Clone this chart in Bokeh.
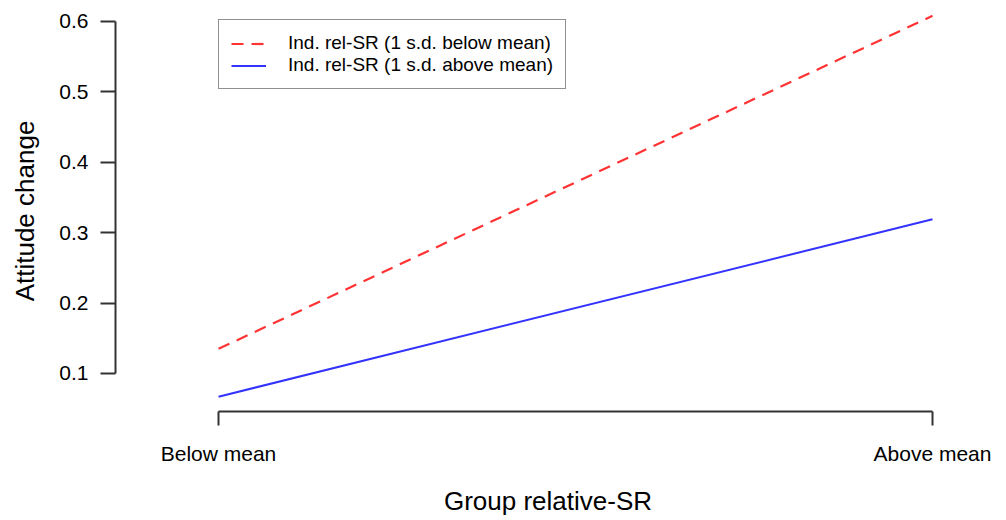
from bokeh.plotting import figure
from bokeh.models import Range1d, FixedTicker, Legend, LegendItem
from bokeh.embed import file_html
from bokeh.resources import INLINE

# ---- data ----
x_labels = ["Below mean", "Above mean"]
x_pos = [1, 2]
below_sd = [0.135, 0.608]   # Ind. rel-SR (1 s.d. below mean)
above_sd = [0.067, 0.319]   # Ind. rel-SR (1 s.d. above mean)
y_ticks = [0.1, 0.2, 0.3, 0.4, 0.5, 0.6]
series_names = ["Ind. rel-SR (1 s.d. below mean)", "Ind. rel-SR (1 s.d. above mean)"]

FONT = "Liberation Sans"
AXIS_COL = "#333333"

p = figure(width=1006, height=520, output_backend="svg", toolbar_location=None,
           x_range=Range1d(0.8557, 2.0672), y_range=Range1d(0.0460, 0.6156),
           min_border_left=115, min_border_right=26, min_border_top=10, min_border_bottom=109)
p.outline_line_color = None
p.xgrid.visible = False
p.ygrid.visible = False

r1 = p.line(x_pos, below_sd, line_color="#ff3333", line_width=2.2, line_dash="12 8")
r2 = p.line(x_pos, above_sd, line_color="#3333ff", line_width=2)

# y axis
ya = p.yaxis[0]
ya.ticker = FixedTicker(ticks=y_ticks)
ya.bounds = (y_ticks[0], y_ticks[-1])
ya.minor_tick_line_color = None
ya.major_tick_in = 0
ya.major_tick_out = 15
ya.axis_line_color = AXIS_COL
ya.axis_line_width = 2
ya.major_tick_line_color = AXIS_COL
ya.major_tick_line_width = 2
ya.major_label_standoff = 12
ya.major_label_text_font = FONT
ya.major_label_text_font_size = "21px"
ya.major_label_text_color = "black"
ya.axis_label = "Attitude change"
ya.axis_label_text_font = FONT
ya.axis_label_text_font_size = "26px"
ya.axis_label_text_font_style = "normal"
ya.axis_label_text_color = "black"
ya.axis_label_standoff = 16

# x axis
xa = p.xaxis[0]
xa.ticker = FixedTicker(ticks=x_pos)
xa.major_label_overrides = {k: v for k, v in zip(x_pos, x_labels)}
xa.bounds = (x_pos[0], x_pos[-1])
xa.minor_tick_line_color = None
xa.major_tick_in = 0
xa.major_tick_out = 14
xa.axis_line_color = AXIS_COL
xa.axis_line_width = 2
xa.major_tick_line_color = AXIS_COL
xa.major_tick_line_width = 2
xa.major_label_standoff = 16
xa.major_label_text_font = FONT
xa.major_label_text_font_size = "21px"
xa.major_label_text_color = "black"
xa.axis_label = "Group relative-SR"
xa.axis_label_text_font = FONT
xa.axis_label_text_font_size = "26px"
xa.axis_label_text_font_style = "normal"
xa.axis_label_text_color = "black"
xa.axis_label_standoff = 18

legend = Legend(items=[LegendItem(label=series_names[0], renderers=[r1]),
                       LegendItem(label=series_names[1], renderers=[r2])],
                location=(103, 322))
legend.label_text_font = FONT
legend.label_text_font_size = "19px"
legend.label_text_color = "black"
legend.glyph_width = 35
legend.glyph_height = 19
legend.label_height = 19
legend.label_standoff = 22
legend.padding = 12
legend.spacing = 0
legend.margin = 0
legend.border_line_color = "#222222"
legend.border_line_width = 1.5
legend.background_fill_alpha = 1
p.add_layout(legend)

open("out.html", "w").write(file_html(p, INLINE))
